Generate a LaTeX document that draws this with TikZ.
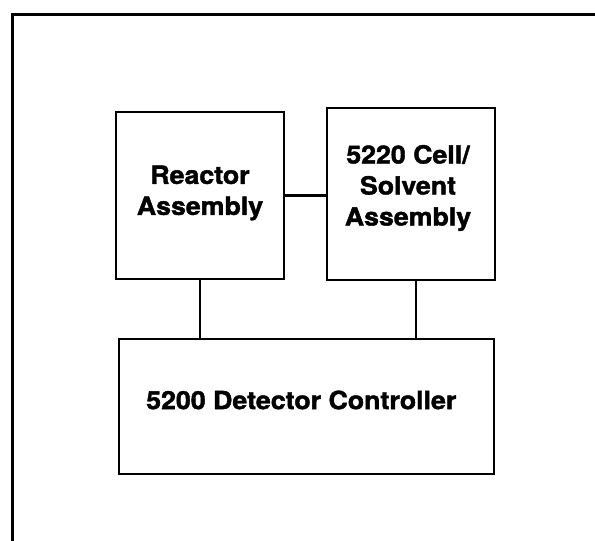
\documentclass[tikz,border=0pt]{standalone}
\usepackage{fontspec}
\setmainfont{TeX Gyre Heros}
\newfontfamily\heavyfont{texgyreheros-bold.otf}[FakeStretch=1.07, FakeBold=1.6]
\usepackage{tikz}
\usepackage{xcolor}
\usetikzlibrary{positioning, calc}
\definecolor{InkBlack}{HTML}{000000}
\definecolor{PaperWhite}{HTML}{ffffff}
\tikzset{
    % Plain boxes with sharp corners
    unit box/.style={
        rectangle,
        draw=InkBlack,
        fill=PaperWhite,
        line width=2.6pt,
        inner sep=0pt
    },
    unit text/.style={
        align=center,
        inner sep=0pt,
        font=\heavyfont\fontsize{25}{31}\selectfont
    },
    link style/.style={
        -,
        line width=2.4pt,
        InkBlack
    },
    frame style/.style={
        line width=3pt,
        InkBlack
    }
}
\begin{document}
\begin{tikzpicture}[x=1pt, y=-1pt]
        \useasboundingbox (0,0) rectangle (595,541);

        % Open frame: top and left edges only
        \draw[frame style] (12,541) -- (12,14) -- (595,14);

        % Upper units
        \node[unit box, minimum width=168pt, minimum height=167pt] (reactor) at (200, 195.5) {};
        \node[unit text] (reactor text) at (200, 193) {
            Reactor\\
            Assembly
        };

        \node[unit box, minimum width=168pt, minimum height=172pt] (cell) at (411, 194) {};
        \node[unit text] (cell text) at (408, 188) {
            5220 Cell/\\
            Solvent\\
            Assembly
        };

        % Controller below
        \node[unit box, minimum width=375pt, minimum height=135pt] (ctrl) at (306.5, 406.5) {};
        \node[unit text] (ctrl text) at (305, 400) {
            5200 Detector Controller
        };

        % Links
        \draw[link style] (reactor.east) -- (reactor.east -| cell.west);
        \draw[link style] (reactor.south) -- (reactor.south |- ctrl.north);
        \draw[link style] ([xshift=5pt]cell.south) -- ([xshift=5pt]cell.south |- ctrl.north);
    \end{tikzpicture}
\end{document}
